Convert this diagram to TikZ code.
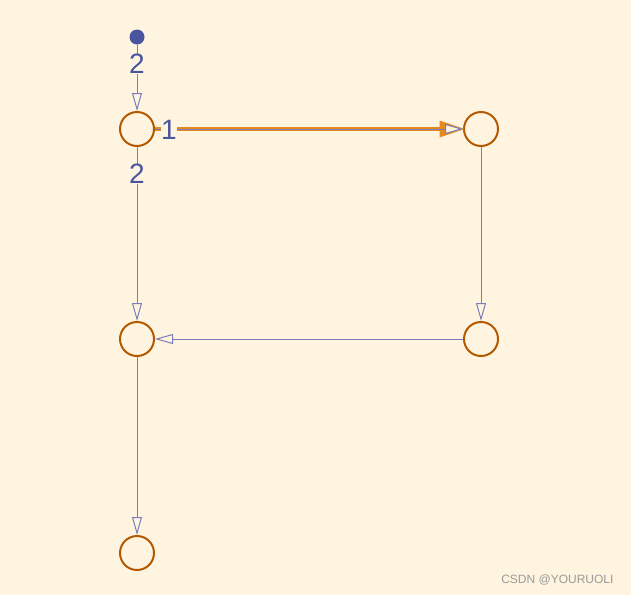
\documentclass[tikz,border=0pt]{standalone}
\usepackage{fontspec}
\setmainfont{Liberation Sans}
\usetikzlibrary{arrows.meta}
\definecolor{bgc}{HTML}{FFF4E0}
\definecolor{nodec}{HTML}{B35A00}
\definecolor{edgec}{HTML}{7A7EBA}
\definecolor{labc}{HTML}{4A55A0}
\definecolor{hic}{HTML}{E68A1E}
\definecolor{wmc}{HTML}{9A9A9A}
\begin{document}
\begin{tikzpicture}[x=1pt,y=-1pt,
  vert/.style={circle,draw=nodec,line width=2pt,minimum size=34pt,inner sep=0pt,fill=none},
  src/.style={circle,fill=labc,minimum size=15pt,inner sep=0pt},
  edge/.style={draw=edgec,line width=1pt,-{Triangle[open,length=18pt,width=10pt,fill=bgc]}},
  hiedge/.style={draw=hic,line width=4.5pt,shorten >=-1.5pt,-{Triangle[length=25pt,width=17pt,line width=0pt,fill=hic]}},
  lab/.style={text=labc,font=\fontsize{28}{28}\selectfont,fill=bgc,inner sep=0.5pt},
  wm/.style={text=wmc,font=\fontsize{12}{12}\selectfont}]
\fill[bgc] (0,0) rectangle (631,595);
\node[src] (s) at (137,37) {};
\node[vert] (a) at (137,129) {};
\node[vert] (b) at (481,129) {};
\node[vert] (c) at (137,339) {};
\node[vert] (d) at (481,339) {};
\node[vert] (e) at (137,553) {};
\draw[edge] (s) -- (a);
\draw[hiedge] (a) -- (b);
\draw[edge] (a) -- (b);
\draw[edge] (a) -- (c);
\draw[edge] (b) -- (d);
\draw[edge] (d) -- (c);
\draw[edge] (c) -- (e);
\node[lab] (l1) at (137,64) {2};
\node[lab] (l2) at (169,130) {1};
\node[lab] (l3) at (137,174) {2};
\node[wm,anchor=east] (w) at (617,580) {CSDN @YOURUOLI};
\end{tikzpicture}
\end{document}
